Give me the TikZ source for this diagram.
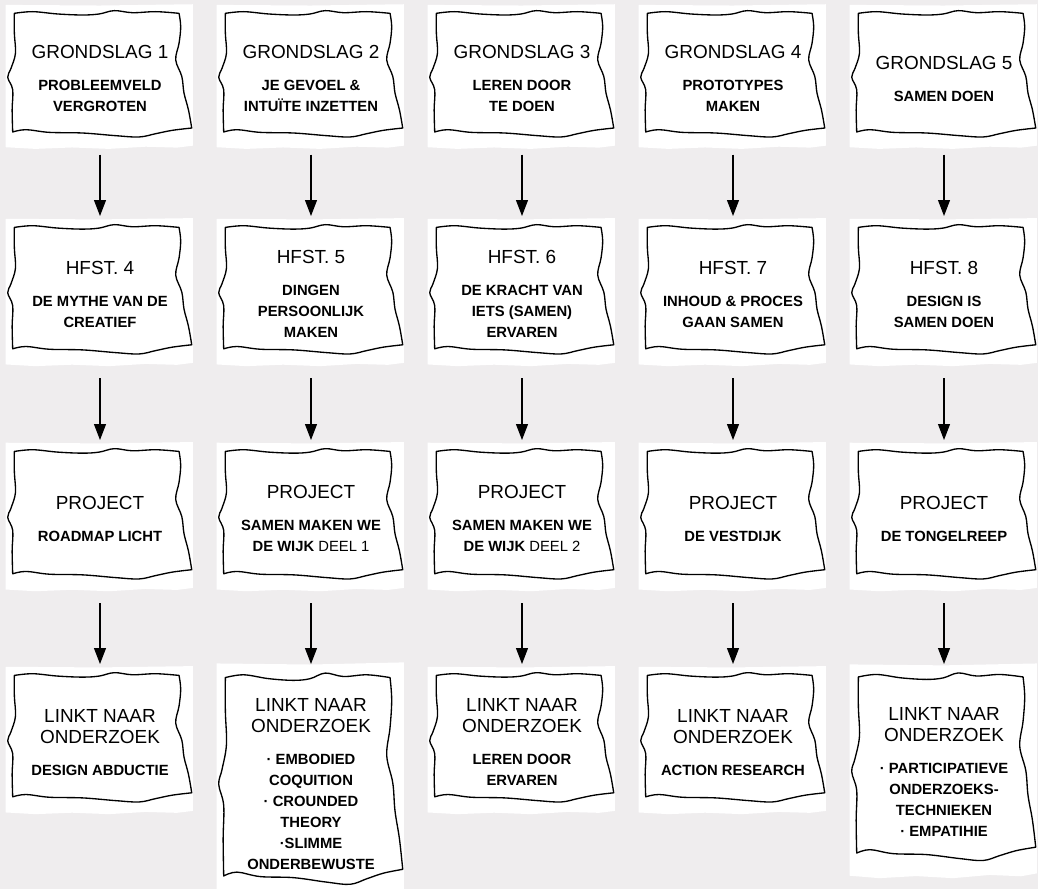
\documentclass[tikz,border=0pt]{standalone}
\usepackage{fontspec}
\setmainfont{Liberation Sans}
\usetikzlibrary{arrows.meta}
\usetikzlibrary{backgrounds}

\definecolor{wallgray}{RGB}{239,237,238}

\begin{document}
\begin{tikzpicture}[x=0.75pt, y=-0.75pt]

\def\colA{100}
\def\colB{311}
\def\colC{522}
\def\colD{733}
\def\colE{944}

\def\rowA{10}
\def\rowB{224}
\def\rowC{448}
\def\rowD{672}

\def\bw{184}

\def\mfont{\mdseries\fontsize{14.2pt}{15.75pt}\selectfont}
\def\tfont{\mfont\rule{0pt}{16.5pt}}

\tikzset{card/.style={align=center, inner sep=0pt, anchor=north,
                      minimum width=\bw*0.75pt, minimum height=#1*0.75pt,
                      font=\bfseries\fontsize{11.1pt}{15.75pt}\selectfont},
         card/.default=131}

\tikzset{flow/.style={line width=0.8pt, -{Triangle[width=9pt,length=12pt]},
                      shorten <=17pt, shorten >=6pt}}

\tikzset{sheet/.pic = {\fill[white] (-0.012,-0.04) -- (0.5,-0.035) -- (1.006,-0.045) -- (1.006,1.06)
                              -- (0.92,1.075) -- (0.75,1.068) -- (0.55,1.085) -- (0.35,1.074)
                              -- (0.15,1.085) -- (-0.012,1.072) -- cycle;
                       \draw[line width=1pt, line join=round]
                            plot[smooth, tension=0.6] coordinates {(0.036,0.026) (0.136,0.013) (0.271,0.031)
                                 (0.407,0.039) (0.497,0.031) (0.579,0.005) (0.678,0.021) (0.805,0.013) (0.931,0.026)}
                         -- plot[smooth, tension=0.6] coordinates {(0.931,0.026) (0.940,0.130) (0.931,0.260)
                                 (0.913,0.390) (0.946,0.519) (0.958,0.649) (0.982,0.779) (1.000,0.922)}
                         -- plot[smooth, tension=0.6] coordinates {(1.000,0.922) (0.895,0.940) (0.805,0.966)
                                 (0.714,0.992) (0.588,0.982) (0.407,0.961) (0.226,0.956) (0.099,0.935) (0.027,0.953)}
                         -- plot[smooth, tension=0.6] coordinates {(0.027,0.953) (0.024,0.779) (0.027,0.623)
                                 (0.000,0.525) (0.018,0.455) (0.042,0.338) (0.036,0.182) (0.036,0.026)}
                         -- cycle;}
        }

\useasboundingbox (0,0) rectangle (1038,889);

%grondslagen
\node[card=128] (g1) at (\colA,\rowA) {{\tfont GRONDSLAG 1}\\[8.25pt] PROBLEEMVELD\\VERGROTEN};
\node[card=128] (g2) at (\colB,\rowA) {{\tfont GRONDSLAG 2}\\[8.25pt] JE GEVOEL \&\\INTUÏTE INZETTEN};
\node[card=128] (g3) at (\colC,\rowA) {{\tfont GRONDSLAG 3}\\[8.25pt] LEREN DOOR\\TE DOEN};
\node[card=128] (g4) at (\colD,\rowA) {{\tfont GRONDSLAG 4}\\[8.25pt] PROTOTYPES\\MAKEN};
\node[card=128] (g5) at (\colE,\rowA) {{\tfont GRONDSLAG 5}\\[8.25pt] SAMEN DOEN};

%hoofdstukken
\node[card] (h1) at (\colA,\rowB) {{\tfont HFST. 4}\\[8.25pt] DE MYTHE VAN DE\\CREATIEF};
\node[card] (h2) at (\colB,\rowB) {{\tfont HFST. 5}\\[8.25pt] DINGEN\\PERSOONLIJK\\MAKEN};
\node[card] (h3) at (\colC,\rowB) {{\tfont HFST. 6}\\[8.25pt] DE KRACHT VAN\\IETS (SAMEN)\\ERVAREN};
\node[card] (h4) at (\colD,\rowB) {{\tfont HFST. 7}\\[8.25pt] INHOUD \& PROCES\\GAAN SAMEN};
\node[card] (h5) at (\colE,\rowB) {{\tfont HFST. 8}\\[8.25pt] DESIGN IS\\SAMEN DOEN};

%projecten
\node[card=132] (p1) at (\colA,\rowC) {{\tfont PROJECT}\\[8.25pt] ROADMAP LICHT};
\node[card=132] (p2) at (\colB,\rowC) {{\tfont PROJECT}\\[8.25pt] SAMEN MAKEN WE\\DE WIJK {\mdseries DEEL 1}};
\node[card=132] (p3) at (\colC,\rowC) {{\tfont PROJECT}\\[8.25pt] SAMEN MAKEN WE\\DE WIJK {\mdseries DEEL 2}};
\node[card=132] (p4) at (\colD,\rowC) {{\tfont PROJECT}\\[8.25pt] DE VESTDIJK};
\node[card=132] (p5) at (\colE,\rowC) {{\tfont PROJECT}\\[8.25pt] DE TONGELREEP};

%onderzoek
\node[card] (l1) at (\colA,\rowD) {{\tfont LINKT NAAR}\\{\mfont ONDERZOEK}\\[8.25pt] DESIGN ABDUCTIE};
\node[card=214] (l2) at (\colB,\rowD) {{\tfont LINKT NAAR}\\{\mfont ONDERZOEK}\\[8.25pt]
      · EMBODIED\\COQUITION\\· CROUNDED\\THEORY\\·SLIMME\\ONDERBEWUSTE};
\node[card] (l3) at (\colC,\rowD) {{\tfont LINKT NAAR}\\{\mfont ONDERZOEK}\\[8.25pt] LEREN DOOR\\ERVAREN};
\node[card] (l4) at (\colD,\rowD) {{\tfont LINKT NAAR}\\{\mfont ONDERZOEK}\\[8.25pt] ACTION RESEARCH};
\node[card=190] (l5) at (\colE,\rowD) {{\tfont LINKT NAAR}\\{\mfont ONDERZOEK}\\[8.25pt]
      · PARTICIPATIEVE\\ONDERZOEKS-\\TECHNIEKEN\\· EMPATIHIE};

%paper sheets behind the cards
\begin{scope}[on background layer]
\fill[wallgray] (0,0) rectangle (1038,889);
\path (g1.north west) pic[xscale=\bw, yscale=128]{sheet};
\path (g2.north west) pic[xscale=\bw, yscale=128]{sheet};
\path (g3.north west) pic[xscale=\bw, yscale=128]{sheet};
\path (g4.north west) pic[xscale=\bw, yscale=128]{sheet};
\path (g5.north west) pic[xscale=\bw, yscale=128]{sheet};

\path (h1.north west) pic[xscale=\bw, yscale=131]{sheet};
\path (h2.north west) pic[xscale=\bw, yscale=131]{sheet};
\path (h3.north west) pic[xscale=\bw, yscale=131]{sheet};
\path (h4.north west) pic[xscale=\bw, yscale=131]{sheet};
\path (h5.north west) pic[xscale=\bw, yscale=131]{sheet};

\path (p1.north west) pic[xscale=\bw, yscale=132]{sheet};
\path (p2.north west) pic[xscale=\bw, yscale=132]{sheet};
\path (p3.north west) pic[xscale=\bw, yscale=132]{sheet};
\path (p4.north west) pic[xscale=\bw, yscale=132]{sheet};
\path (p5.north west) pic[xscale=\bw, yscale=132]{sheet};

\path (l1.north west) pic[xscale=\bw, yscale=131]{sheet};
\path (l2.north west) pic[xscale=\bw, yscale=214]{sheet};
\path (l3.north west) pic[xscale=\bw, yscale=131]{sheet};
\path (l4.north west) pic[xscale=\bw, yscale=131]{sheet};
\path (l5.north west) pic[xscale=\bw, yscale=190]{sheet};
\end{scope}

%arrows
\draw[flow, shorten <=12pt] (g1) -- (h1);
\draw[flow, shorten <=12pt] (g2) -- (h2);
\draw[flow, shorten <=12pt] (g3) -- (h3);
\draw[flow, shorten <=12pt] (g4) -- (h4);
\draw[flow, shorten <=12pt] (g5) -- (h5);

\draw[flow] (h1) -- (p1);
\draw[flow] (h2) -- (p2);
\draw[flow] (h3) -- (p3);
\draw[flow] (h4) -- (p4);
\draw[flow] (h5) -- (p5);

\draw[flow] (p1) -- (l1);
\draw[flow] (p2) -- (l2);
\draw[flow] (p3) -- (l3);
\draw[flow] (p4) -- (l4);
\draw[flow] (p5) -- (l5);

\end{tikzpicture}
\end{document}
